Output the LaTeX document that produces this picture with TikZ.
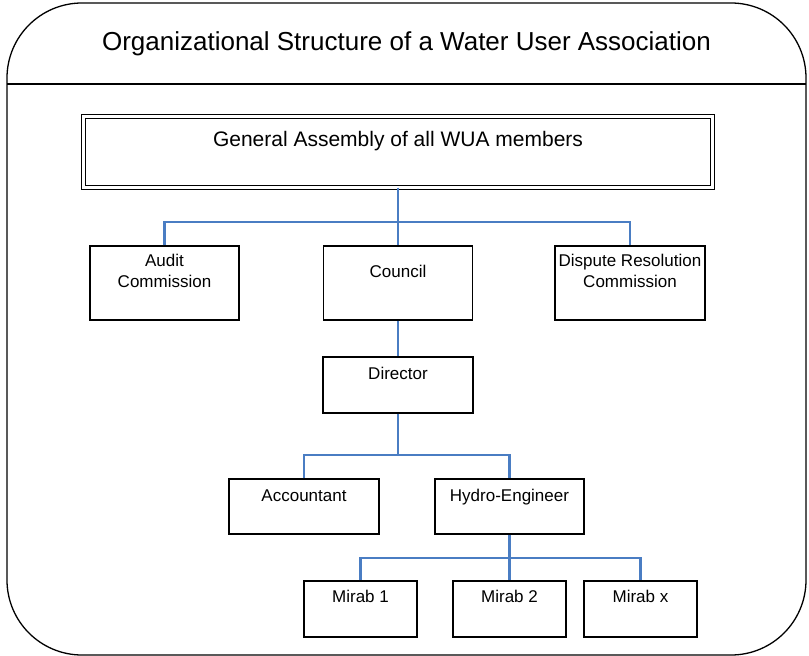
\documentclass[tikz,border=0pt]{standalone}
\usepackage{fontspec}
\setmainfont{Liberation Sans}
\definecolor{cLINK}{RGB}{74,125,195}
\begin{document}
\begin{tikzpicture}[x=1pt,y=-1pt,
  orgbox/.style={draw,line width=1.2pt,fill=white,inner sep=0pt,minimum width=150pt,minimum height=#1},
  orgtext/.style={inner sep=0pt,align=center,font=\fontsize{17}{21}\selectfont},
  orglink/.style={cLINK,line width=2.6pt},
  orgthin/.style={cLINK,line width=1.7pt}]
\useasboundingbox (0,0) rectangle (809,656);
\draw[line width=1.3pt,rounded corners=75pt] (7,300) -- (7,3) -- (806,3) -- (806,655) -- (7,655) -- cycle;
\draw[line width=1.2pt] (7,84) -- (806,84);
\node[anchor=base,inner sep=0pt,font=\fontsize{26}{30}\selectfont] (title) at (406.5,50) {Organizational Structure of a Water User Association};
\node[draw,double,line width=1pt,double distance=3pt,inner sep=0pt,minimum width=629.5pt,minimum height=70.5pt] (ga) at (398,151.75) {};
\node[anchor=base,inner sep=0pt,font=\fontsize{21}{25}\selectfont] (gaText) at ([yshift=-30.5pt]ga.north) {General Assembly of all WUA members};
\node[orgbox=74pt,minimum width=149pt] (audit) at (164.5,283) {};
\node[orgbox=74pt,minimum width=149pt] (council) at (398,283) {};
\node[orgbox=74pt] (dispute) at (630,283) {};
\node[orgbox=56pt] (director) at (398,385) {};
\node[orgbox=55pt] (accountant) at (304,506.5) {};
\node[orgbox=55pt,minimum width=149pt] (hydro) at (509.5,506.5) {};
\node[orgbox=56pt,minimum width=113pt] (mirab1) at (360.5,609) {};
\node[orgbox=56pt,minimum width=113pt] (mirab2) at (509.5,609) {};
\node[orgbox=56pt,minimum width=113pt] (mirabx) at (640.5,609) {};
\node[orgtext,anchor=center] (auditText) at ([yshift=-25.3pt]audit.north) {Audit\\Commission};
\node[orgtext,anchor=base] (councilText) at ([yshift=-32pt]council.north) {Council};
\node[orgtext,anchor=center] (disputeText) at ([yshift=-25.3pt]dispute.north) {Dispute Resolution\\Commission};
\node[orgtext,anchor=base] (directorText) at ([yshift=-23pt]director.north) {Director};
\node[orgtext,anchor=base] (accountantText) at ([yshift=-23pt]accountant.north) {Accountant};
\node[orgtext,anchor=base] (hydroText) at ([yshift=-23pt]hydro.north) {Hydro-Engineer};
\node[orgtext,anchor=base] (mirab1Text) at ([yshift=-22pt]mirab1.north) {Mirab 1};
\node[orgtext,anchor=base] (mirab2Text) at ([yshift=-22pt]mirab2.north) {Mirab 2};
\node[orgtext,anchor=base] (mirabxText) at ([yshift=-22pt]mirabx.north) {Mirab x};
\coordinate (bar1) at (398,222);
\coordinate (bar2) at (398,455);
\coordinate (bar3) at (509.5,558);
\draw[orgthin] (bar1) -- (council.north);
\draw[orglink] (ga.south) -- (bar1);
\draw[orglink] (audit.north) |- (bar1) -| (dispute.north);
\draw[orglink] (council.south) -- (director.north);
\draw[orglink] (director.south) -- (bar2);
\draw[orglink] (accountant.north) |- (bar2) -| (hydro.north);
\draw[orglink] (hydro.south) -- (bar3);
\draw[orglink] (mirab1.north) |- (bar3) -| (mirabx.north);
\draw[orglink] (bar3) -- (mirab2.north);
\end{tikzpicture}
\end{document}
